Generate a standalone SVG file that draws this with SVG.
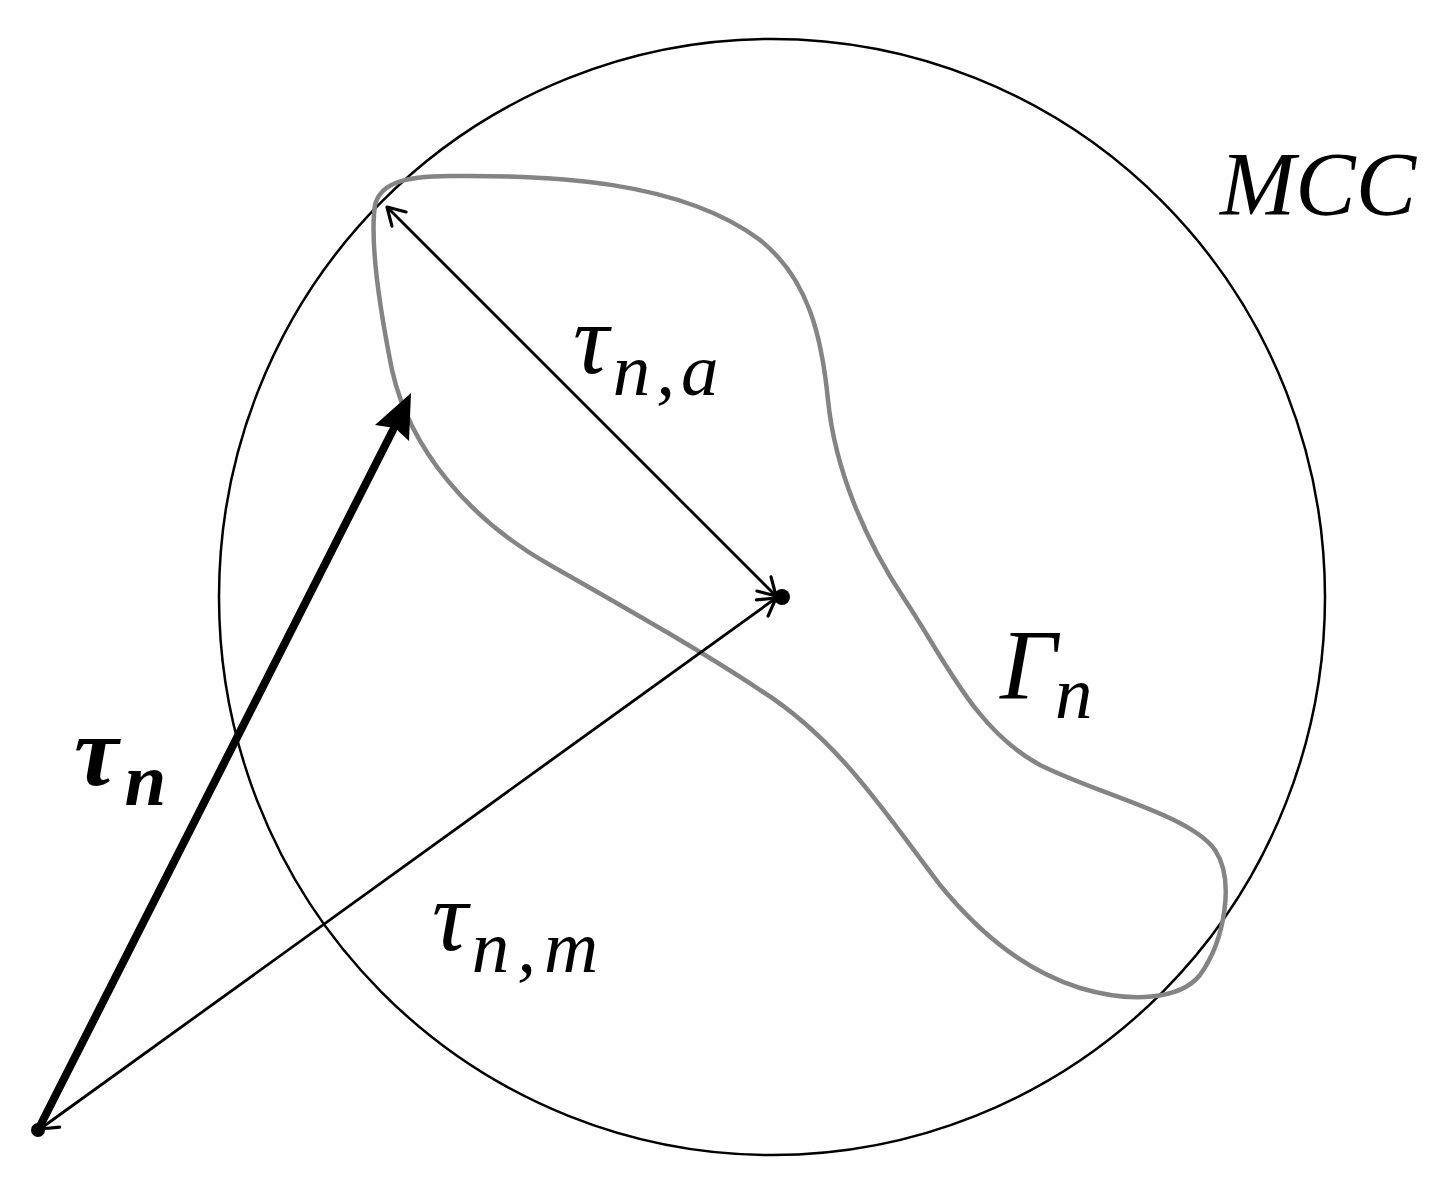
<svg xmlns="http://www.w3.org/2000/svg" width="1448" height="1190" viewBox="0 0 1448 1190">
<style>
.lbl{font-family:"Liberation Serif","DejaVu Serif",serif;font-style:italic;fill:#000}
.thin{stroke:#000;stroke-width:2.8;fill:none}
</style>
<defs>
<marker id="ah" viewBox="0 0 24 24" refX="22" refY="12" markerWidth="24" markerHeight="24" markerUnits="userSpaceOnUse" orient="auto-start-reverse">
<path d="M5,2 L22,12 L5,22" fill="none" stroke="#000" stroke-width="3.2" stroke-linecap="round" stroke-linejoin="round"/>
</marker>
</defs>
<rect width="1448" height="1190" fill="#fff"/>
<g id="mcc"><ellipse cx="772" cy="597" rx="553" ry="558" fill="none" stroke="#000" stroke-width="2.5"/></g>
<g id="gamma"><path d="M375,205 C380,185 400,176 450,176 C550,175 680,180 760,240 C810,280 822,340 828,400 C835,470 865,540 905,600 C945,660 975,730 1040,765 C1100,795 1190,815 1215,850 C1235,880 1225,940 1200,975 C1180,1000 1130,1003 1080,988 C1030,972 985,940 940,885 C890,820 840,740 760,690 C700,650 620,605 550,565 C470,520 410,450 392,370 C378,300 370,240 375,205 Z" fill="none" stroke="#848484" stroke-width="4.5"/></g>
<g id="connectors">
<line class="thin" x1="387" y1="207" x2="776" y2="596" marker-start="url(#ah)" marker-end="url(#ah)"/>
<line class="thin" x1="40" y1="1129" x2="776" y2="598" marker-start="url(#ah)" marker-end="url(#ah)"/>
<line x1="38" y1="1130" x2="393" y2="430" stroke="#000" stroke-width="8" stroke-linecap="round"/>
<path d="M411,393 L409,441 L395,428 L375,425 Z" fill="#000"/>
<circle cx="782" cy="597" r="8" fill="#000"/>
<circle cx="38" cy="1130" r="7" fill="#000"/>
</g>
<g id="labels">
<text class="lbl" x="1220" y="215" font-size="90" textLength="196" lengthAdjust="spacingAndGlyphs">MCC</text>
<text class="lbl" x="573" y="373" font-size="100">τ<tspan font-size="75" dy="22" dx="4" letter-spacing="6">n,a</tspan></text>
<text class="lbl" x="1000" y="698" font-size="100">Γ<tspan font-size="75" dy="20" dx="-2">n</tspan></text>
<text class="lbl" x="74" y="785" font-size="100" font-weight="bold">τ<tspan font-size="75" dy="20" dx="6">n</tspan></text>
<text class="lbl" x="432" y="950" font-size="100">τ<tspan font-size="75" dy="22" dx="4" letter-spacing="8">n,m</tspan></text>
</g>
</svg>
